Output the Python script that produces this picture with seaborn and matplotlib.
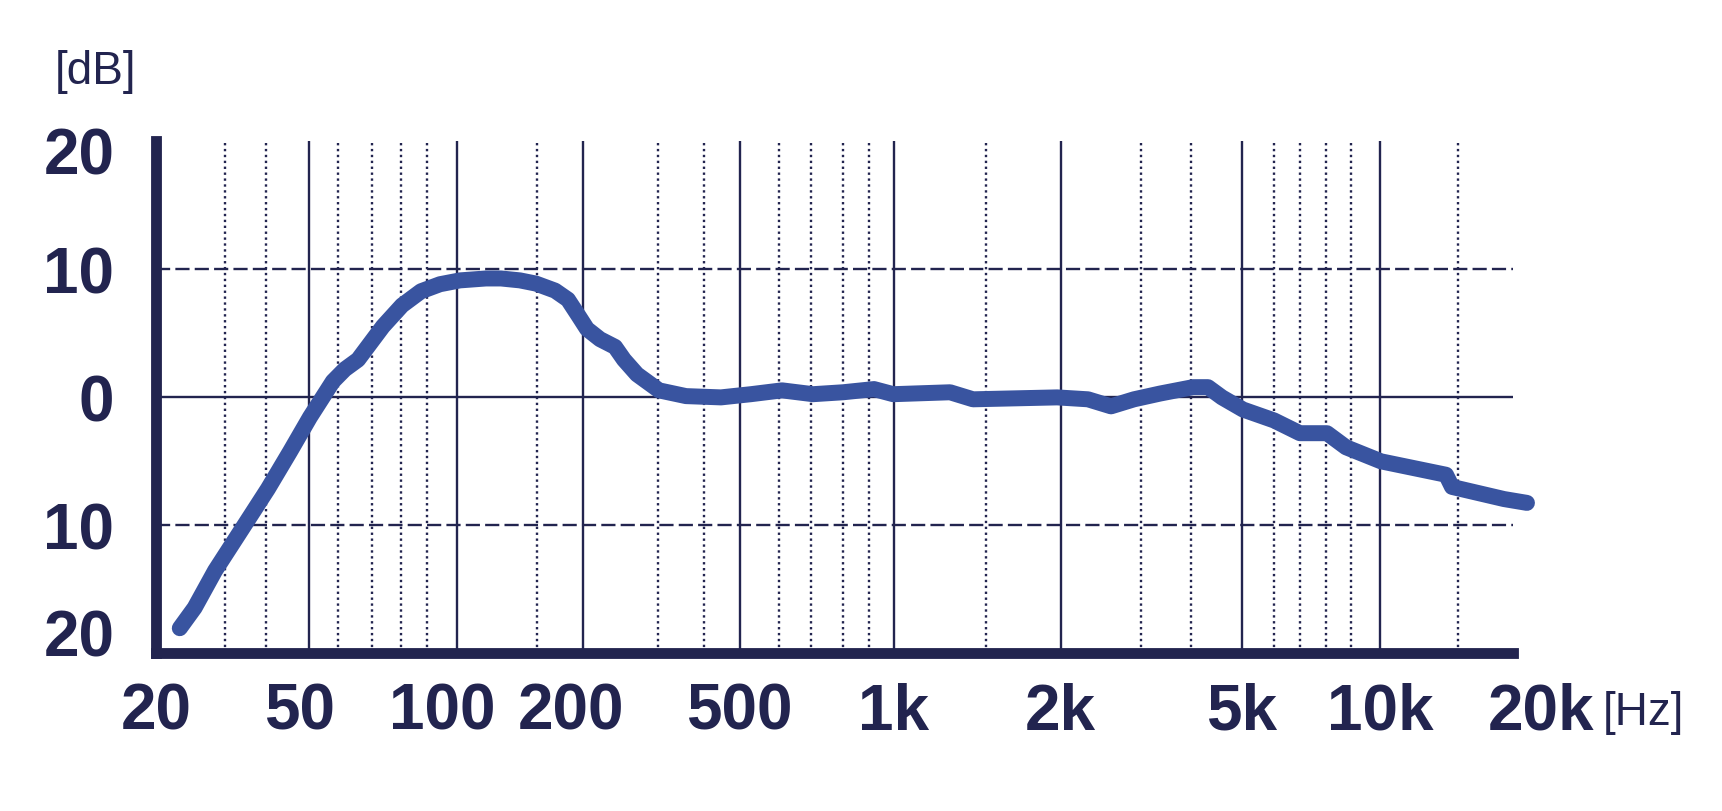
import numpy as np
import matplotlib
matplotlib.use('Agg')
import matplotlib.pyplot as plt
import matplotlib.transforms as mtrans
import seaborn as sns


# frequency response
freq_hz = [23.0, 25.1, 28.3, 33.3, 40.4, 45.3, 50.3, 58.1, 61.9, 65.7,
           73.6, 80.4, 87.6, 94.2, 101.5, 115.8, 125, 137.6, 149.2, 167.9,
           182, 193.8, 204.4, 219.3, 237.8, 249.6, 267.8, 301.9, 357.4, 445,
           527, 608.8, 706.7, 800, 921, 998, 1281, 1417, 1973, 2296,
           2579, 2896, 3347, 4035, 4309, 4581, 5029, 6000, 7015, 8055,
           8795, 10052, 14125, 14575, 19089, 21500]
level_db = [-18.1, -16.5, -13.6, -10.6, -7.2, -4.3, -1.6, 1.2, 2.15, 2.9,
            5.5, 7.15, 8.25, 8.8, 9.1, 9.25, 9.25, 9.1, 8.85, 8.3,
            7.6, 6.4, 5.3, 4.5, 3.9, 2.9, 1.75, 0.5, 0.05, -0.05,
            0.2, 0.5, 0.2, 0.35, 0.6, 0.2, 0.35, -0.2, -0.05, -0.2,
            -0.75, -0.2, 0.25, 0.75, 0.75, -0.05, -1.0, -1.85, -2.85, -2.85,
            -3.95, -5.05, -6.1, -7.05, -8.0, -8.3]

x_ticks = [20, 50, 100, 200, 500, 1000, 2000, 5000, 10000, 20000]
x_labels = ['20', '50', '100', '200', '500', '1k', '2k', '5k', '10k', '20k']
x_minor = [30, 40, 60, 70, 80, 90, 150, 300, 400, 600, 700, 800, 900,
           1500, 3000, 4000, 6000, 7000, 8000, 9000, 15000]
y_ticks = [20, 10, 0, -10, -20]
y_labels = ['20', '10', '0', '10', '20']

# the hand drawn frequency axis is not evenly logarithmic: knot positions
knot_hz = [20, 30, 40, 50, 60, 70, 80, 90, 100, 150, 200, 300, 400, 500,
           600, 700, 800, 900, 1000, 1500, 2000, 3000, 4000, 5000, 6000,
           7000, 8000, 9000, 10000, 15000, 20000]
knot_px = [156, 225, 266, 309, 338, 372, 401, 427, 457, 537, 583, 658, 704,
           739.5, 779, 810.7, 843, 868.5, 893.7, 986, 1060.6, 1141, 1191,
           1242, 1274, 1299.5, 1325.5, 1351, 1380, 1457.5, 1513]

NAVY = '#22244f'
BLUE = '#3954a0'

k_log = np.log10(knot_hz)
k_pos = (np.array(knot_px) - knot_px[0]) / (knot_px[-1] - knot_px[0])


def _interp(x, xp, fp):
    x = np.asarray(x, dtype=float)
    y = np.interp(x, xp, fp)
    y = np.where(x < xp[0], fp[0] + (x - xp[0]) * (fp[1] - fp[0]) / (xp[1] - xp[0]), y)
    y = np.where(x > xp[-1], fp[-1] + (x - xp[-1]) * (fp[-1] - fp[-2]) / (xp[-1] - xp[-2]), y)
    return y


def forward(f):
    return _interp(np.log10(np.clip(np.asarray(f, dtype=float), 1e-3, None)), k_log, k_pos)


def inverse(p):
    return 10 ** _interp(p, k_pos, k_log)


sns.set_style('white')
plt.rcParams['font.family'] = ['Liberation Sans Narrow', 'Liberation Sans', 'DejaVu Sans']

fig = plt.figure(figsize=(17.22, 8.12), dpi=100)
ax = fig.add_axes([156 / 1722, 1 - 653.5 / 812, (1513 - 156) / 1722, (653.5 - 142) / 812])

sns.lineplot(x=freq_hz, y=level_db, ax=ax, sort=False, estimator=None,
             color=BLUE, linewidth=11.5, solid_capstyle='round',
             solid_joinstyle='round', clip_on=False, zorder=5)

ax.set_xscale('function', functions=(forward, inverse))
ax.set_xlim(20, 20000)
ax.set_ylim(-20, 20)

ax.set_xticks(x_ticks)
ax.set_xticklabels(x_labels)
ax.set_xticks(x_minor, minor=True)
ax.set_yticks(y_ticks)
ax.set_yticklabels(y_labels)
ax.set_xlabel('')
ax.set_ylabel('')

ax.tick_params(axis='both', which='both', length=0)
ax.tick_params(axis='x', which='major', pad=21, labelsize=46, labelcolor=NAVY)
ax.tick_params(axis='y', which='major', pad=30, labelsize=46, labelcolor=NAVY)
for lab in ax.get_xticklabels() + ax.get_yticklabels():
    lab.set_fontweight('bold')

# vertical grid
ax.xaxis.grid(True, which='major', color=NAVY, linestyle='-', linewidth=1.7)
ax.xaxis.grid(True, which='minor', color=NAVY, linestyle=(0, (1, 1.5)), linewidth=1.7)
ax.yaxis.grid(False)
ax.xaxis.get_major_ticks()[-1].gridline.set_visible(False)

# horizontal reference lines
ax.axhline(10, color=NAVY, linestyle=(0, (6, 2.2)), linewidth=1.7, zorder=1)
ax.axhline(-10, color=NAVY, linestyle=(0, (6, 2.2)), linewidth=1.7, zorder=1)
ax.axhline(0, color=NAVY, linestyle='-', linewidth=1.7, zorder=1)

for side in ['top', 'right']:
    ax.spines[side].set_visible(False)
for side in ['left', 'bottom']:
    ax.spines[side].set_color(NAVY)
    ax.spines[side].set_linewidth(7.8)
    ax.spines[side].set_zorder(6)

# nudge a few labels the way they were drawn by hand
x_nudge = {'50': -9, '100': -15, '200': -12, '20k': 28}
for lab, txt in zip(ax.get_xticklabels(), x_labels):
    if txt in x_nudge:
        off = mtrans.ScaledTranslation(x_nudge[txt] / 100, 0, fig.dpi_scale_trans)
        lab.set_transform(lab.get_transform() + off)
y_nudge = {0: -9, 4: 20}
for i, lab in enumerate(ax.get_yticklabels()):
    if i in y_nudge:
        off = mtrans.ScaledTranslation(0, y_nudge[i] / 100, fig.dpi_scale_trans)
        lab.set_transform(lab.get_transform() + off)

fig.text(95 / 1722, 1 - 72 / 812, '[dB]', ha='center', va='center',
         fontsize=33, color=NAVY)
fig.text(1643 / 1722, 1 - 713 / 812, '[Hz]', ha='center', va='center',
         fontsize=33, color=NAVY)

fig.savefig('out.png', dpi=100, facecolor='white')
